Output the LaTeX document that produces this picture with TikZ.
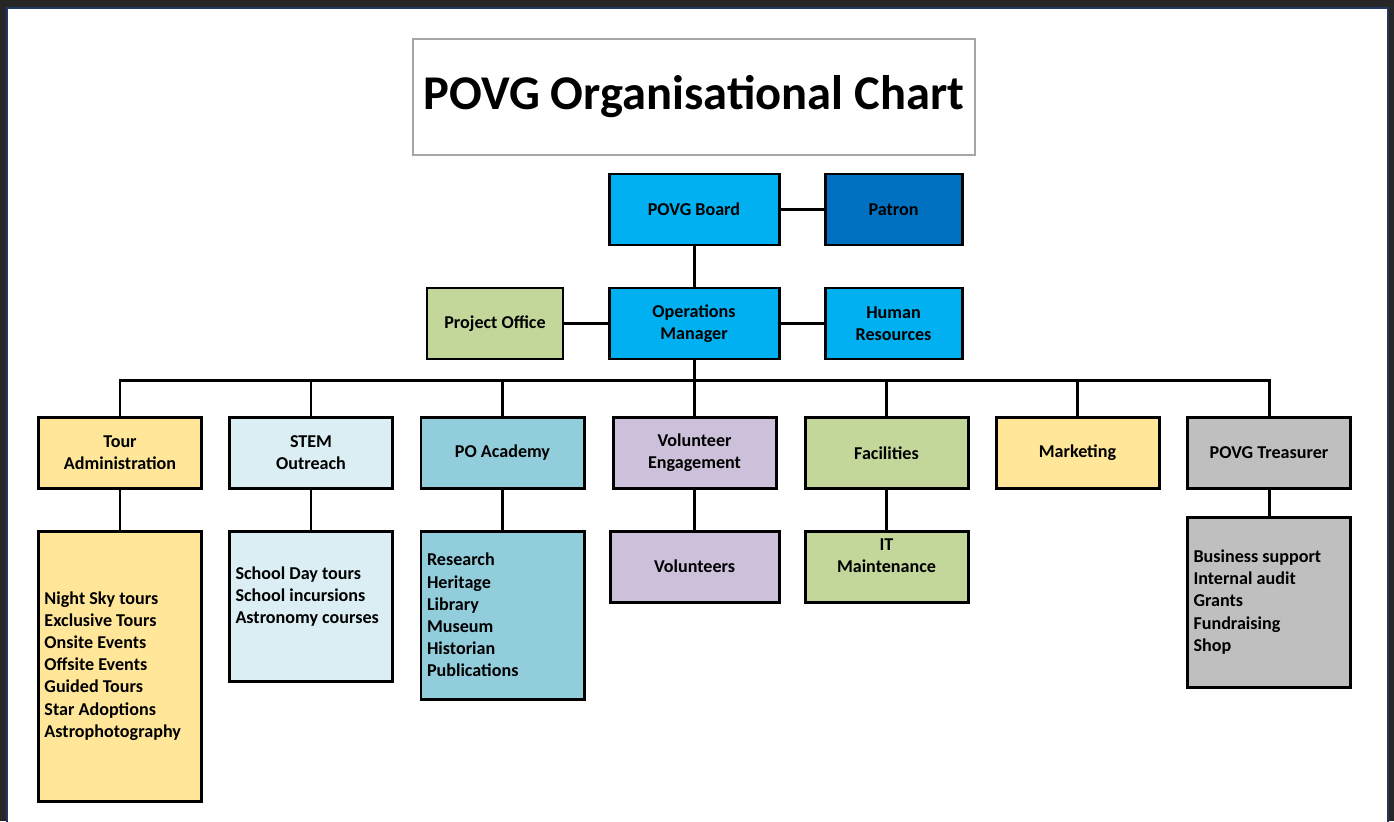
\documentclass[tikz,border=0pt]{standalone}
\usepackage{fontspec}
\setmainfont{Carlito}
\usepackage{tikz}
\usetikzlibrary{positioning}

\definecolor{frame}{RGB}{38,38,38}
\definecolor{frameline}{RGB}{31,56,100}
\definecolor{skyblue}{RGB}{0,176,240}
\definecolor{patronblue}{RGB}{0,112,192}
\definecolor{olivelight}{RGB}{196,215,155}
\definecolor{goldlight}{RGB}{255,230,153}
\definecolor{stemblue}{RGB}{218,238,243}
\definecolor{academyblue}{RGB}{146,205,220}
\definecolor{lilac}{RGB}{204,192,218}
\definecolor{greybox}{RGB}{191,191,191}

\begin{document}
\begin{tikzpicture}[x=1cm,y=1cm,
	box/.style={draw=black, line width=1.7pt, minimum height=1.42cm, minimum width=3.26cm, inner sep=2pt, align=center, font=\bfseries\fontsize{10.3}{12.6}\selectfont},
	list/.style={box, text width=3.02cm, inner xsep=0.12cm, align=flush left},
	link/.style={line width=1.7pt}]
	\useasboundingbox (0,0) rectangle (27.88,-16.42);
	% frame of the screenshot
	\fill[frame] (0,0) rectangle (27.88,-16.42);
	\draw[frameline, line width=0.6pt, fill=white] (0.14,-0.16) rectangle (27.76,-16.6);
	% title
	\node[draw=gray!70, line width=0.8pt, minimum width=11.24cm, minimum height=2.32cm, font=\bfseries\fontsize{27.6}{32}\selectfont] (title) at (13.88,-1.94) {\raisebox{-2pt}{POVG Organisational Chart}};
	% top level
	\node[box, fill=skyblue, minimum width=3.4cm] (board) at (13.88,-4.19) {POVG Board};
	\node[box, fill=patronblue, minimum width=2.74cm] (patron) at (17.87,-4.19) {Patron};
	\node[box, fill=skyblue, minimum width=3.4cm] (opsmgr) at (13.88,-6.47) {Operations\\Manager};
	\node[box, fill=olivelight, minimum width=2.72cm] (projoffice) at (9.9,-6.47) {Project Office};
	\node[box, fill=skyblue, minimum width=2.74cm] (hr) at (17.87,-6.47) {Human\\Resources};
	\coordinate (bus) at (0,-7.6);
	% departments
	\node[box, fill=goldlight] (tours) at (2.4,-9.06) {Tour\\Administration};
	\node[box, fill=stemblue] (stem) at (6.22,-9.06) {STEM\\Outreach};
	\node[box, fill=academyblue] (academy) at (10.05,-9.06) {PO Academy};
	\node[box, fill=lilac] (voleng) at (13.89,-9.06) {Volunteer\\Engagement};
	\node[box, fill=olivelight] (facilities) at (17.73,-9.06) {Facilities};
	\node[box, fill=goldlight] (marketing) at (21.55,-9.06) {Marketing};
	\node[box, fill=greybox] (treasurer) at (25.38,-9.06) {POVG Treasurer};
	% sub units
	\node[list, fill=goldlight, minimum height=5.4cm] (tourlist) at (2.4,-13.32) {Night Sky tours\\Exclusive Tours\\Onsite Events\\Offsite Events\\Guided Tours\\Star Adoptions\\Astrophotography};
	\node[list, fill=stemblue, minimum height=3cm] (stemlist) at (6.22,-12.12) {School Day tours\\School incursions\\Astronomy courses\\\mbox{}};
	\node[list, fill=academyblue, minimum height=3.36cm] (academylist) at (10.05,-12.3) {Research\\Heritage\\Library\\Museum\\Historian\\Publications};
	\node[box, fill=lilac, minimum width=3.38cm] (volunteers) at (13.89,-11.33) {Volunteers};
	\node[box, fill=olivelight] (itmaint) at (17.73,-11.33) {IT\\Maintenance\\\mbox{}};
	\node[list, fill=greybox, minimum height=3.4cm] (treaslist) at (25.38,-12.04) {Business support\\Internal audit\\Grants\\Fundraising\\Shop};
	% connectors
	\draw[link] (board) -- (patron);
	\draw[link] (board) -- (opsmgr);
	\draw[link] (projoffice) -- (opsmgr);
	\draw[link] (opsmgr) -- (hr);
	\draw[link] (opsmgr.south) -- (opsmgr.south |- bus);
	\draw[link] (tours.north) |- (treasurer.north |- bus) -- (treasurer.north);
	\foreach \dept in {stem,academy,voleng,facilities,marketing}
		\draw[link] (\dept.north) -- (\dept.north |- bus);
	\draw[link] (tours) -- (tourlist);
	\draw[link] (stem) -- (stemlist);
	\draw[link] (academy) -- (academylist);
	\draw[link] (voleng) -- (volunteers);
	\draw[link] (facilities) -- (itmaint);
	\draw[link] (treasurer) -- (treaslist);
\end{tikzpicture}
\end{document}
